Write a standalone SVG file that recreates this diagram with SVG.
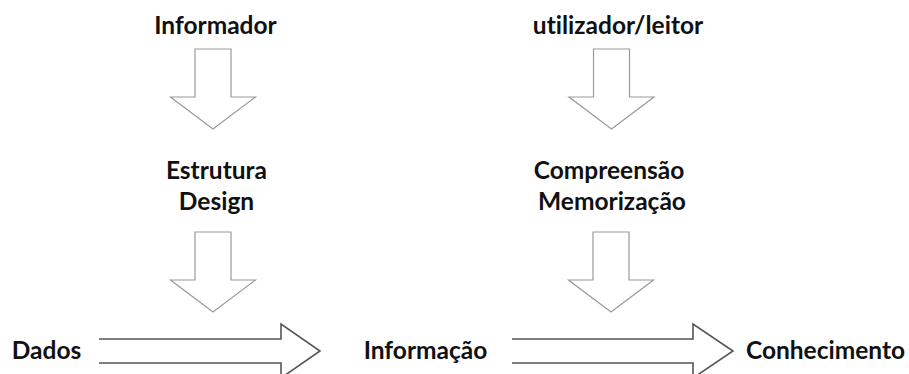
<svg xmlns="http://www.w3.org/2000/svg" width="909" height="374" viewBox="0 0 909 374">
<defs>
<style>
.t{font-family:Lato,"Open Sans","Liberation Sans",sans-serif;font-weight:bold;font-size:24.5px;fill:#111;text-anchor:middle;font-variant-ligatures:none;font-feature-settings:"liga" 0,"clig" 0,"dlig" 0}
.va{fill:#fff;stroke:#9a9a9a;stroke-width:1.2;stroke-linejoin:miter}
.ha{fill:none;stroke:#555;stroke-width:1.6;stroke-linejoin:miter}
</style>
<path id="down" d="M-18,0 H18 V48 H42.5 L0,80 L-42.5,48 H-18 Z"/>
</defs>
<rect width="909" height="374" fill="#fff"/>
<g id="connectors">
<use href="#down" class="va" transform="translate(213,49)"/>
<use href="#down" class="va" transform="translate(213,232)"/>
<use href="#down" class="va" transform="translate(611.5,49)"/>
<use href="#down" class="va" transform="translate(611,232)"/>
<path class="ha" d="M99,339 H281 V324 L320,351 L281,378 V363 H99"/>
<path class="ha" d="M512,339 H693 V324 L733,351 L693,378 V363 H512"/>
</g>
<g id="informador"><text class="t" x="215.5" y="34">Informador</text></g>
<g id="utilizador"><text class="t" x="618" y="34">utilizador/leitor</text></g>
<g id="estrutura"><text class="t" x="216.5" y="179">Estrutura</text><text class="t" x="216.5" y="210">Design</text></g>
<g id="compreensao"><text class="t" x="609" y="179">Compreensão</text><text class="t" x="612" y="210">Memorização</text></g>
<g id="dados"><text class="t" x="46.5" y="359">Dados</text></g>
<g id="informacao"><text class="t" x="425.5" y="359">Informação</text></g>
<g id="conhecimento"><text class="t" x="825.5" y="359">Conhecimento</text></g>
</svg>
